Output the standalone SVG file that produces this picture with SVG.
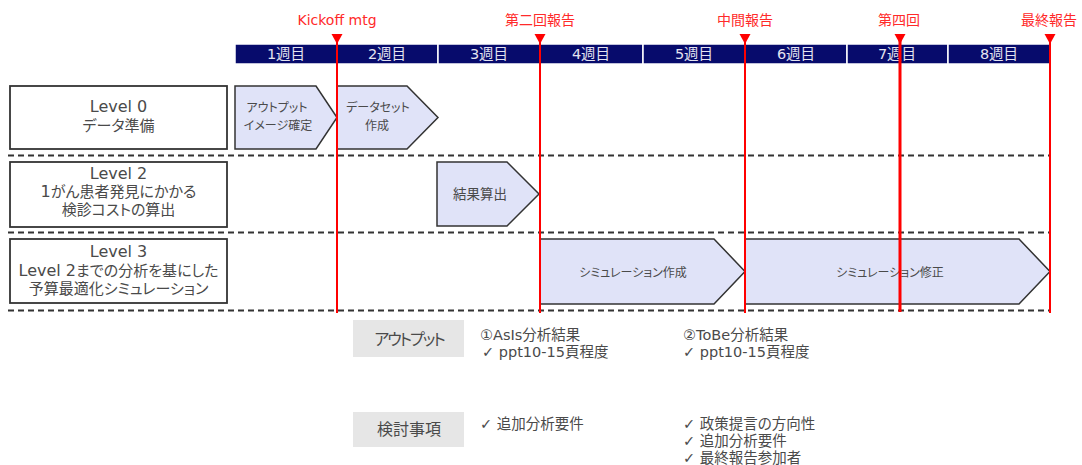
<svg xmlns="http://www.w3.org/2000/svg" width="1082" height="465" viewBox="0 0 1082 465">
<style>
text{font-family:"DejaVu Sans","Noto Sans CJK JP",sans-serif;font-feature-settings:"palt";fill:#4a4a4a}
.wk{fill:#070b6c;stroke:#ffffff;stroke-width:1.5}
.wkt{font-size:14.5px;fill:#e4e4f0;text-anchor:middle}
.ms{font-size:14px;fill:#ff2a2a;text-anchor:middle}
.msl{stroke:#ff0000;stroke-width:2;fill:none}
.tri{fill:#ff0000}
.lvl{fill:#ffffff;stroke:#333333;stroke-width:1.8}
.lt{font-size:15px;text-anchor:middle}
.lat{font-size:16px}
.chev{fill:#e0e3f8;stroke:#333333;stroke-width:1.5;stroke-linejoin:miter}
.ct{font-size:12px;text-anchor:middle}
.dash{stroke:#333333;stroke-width:1.8;stroke-dasharray:6 4;fill:none}
.gbox{fill:#e6e6e6}
.gt{font-size:16px;text-anchor:middle}
.li{font-size:14.5px}
</style>
<rect width="1082" height="465" fill="#ffffff"/>

<g id="weeks">
<rect class="wk" x="235" y="44" width="102" height="20"/>
<rect class="wk" x="337" y="44" width="101" height="20"/>
<rect class="wk" x="438" y="44" width="102" height="20"/>
<rect class="wk" x="540" y="44" width="103" height="20"/>
<rect class="wk" x="643" y="44" width="102" height="20"/>
<rect class="wk" x="745" y="44" width="102" height="20"/>
<rect class="wk" x="847" y="44" width="101" height="20"/>
<rect class="wk" x="948" y="44" width="102" height="20"/>
<text class="wkt" x="286" y="59">1週目</text>
<text class="wkt" x="387" y="59">2週目</text>
<text class="wkt" x="489" y="59">3週目</text>
<text class="wkt" x="591" y="59">4週目</text>
<text class="wkt" x="694" y="59">5週目</text>
<text class="wkt" x="796" y="59">6週目</text>
<text class="wkt" x="897" y="59">7週目</text>
<text class="wkt" x="999" y="59">8週目</text>
</g>

<g id="level0">
<rect class="lvl" x="10" y="86" width="217" height="63"/>
<text class="lt" x="118.5" y="112"><tspan class="lat">Level 0</tspan></text>
<text class="lt" x="118.5" y="131">データ準備</text>
</g>
<g id="level2">
<rect class="lvl" x="10" y="162" width="217" height="65"/>
<text class="lt" x="118.5" y="179"><tspan class="lat">Level 2</tspan></text>
<text class="lt" x="118.5" y="197"><tspan class="lat">1</tspan>がん患者発見にかかる</text>
<text class="lt" x="118.5" y="215">検診コストの算出</text>
</g>
<g id="level3">
<rect class="lvl" x="10" y="239" width="217" height="64"/>
<text class="lt" x="118.5" y="257"><tspan class="lat">Level 3</tspan></text>
<text class="lt" x="118.5" y="276"><tspan class="lat">Level 2</tspan>までの分析を基にした</text>
<text class="lt" x="118.5" y="294">予算最適化シミュレーション</text>
</g>

<g id="task-output-image">
<polygon class="chev" points="235,86 316,86 337,117.5 316,149 235,149"/>
<text class="ct" x="277" y="112">アウトプット</text>
<text class="ct" x="278" y="129.5">イメージ確定</text>
</g>
<g id="task-dataset">
<polygon class="chev" points="337,86 407,86 438,117.5 407,149 337,149"/>
<text class="ct" x="378" y="112">データセット</text>
<text class="ct" x="377" y="129.5">作成</text>
</g>
<g id="task-result">
<polygon class="chev" points="437,162 507,162 539,194 507,226 437,226"/>
<text class="ct" x="480" y="198.5" style="font-size:13.5px">結果算出</text>
</g>
<g id="task-sim-create">
<polygon class="chev" points="540,239 714,239 745,271.5 714,304 540,304"/>
<text class="ct" x="633" y="277">シミュレーション作成</text>
</g>
<g id="task-sim-revise">
<polygon class="chev" points="745,239 1019,239 1050,271.5 1019,304 745,304"/>
<text class="ct" x="890" y="277">シミュレーション修正</text>
</g>

<g id="connectors">
<line class="dash" x1="8" y1="155.5" x2="1050" y2="155.5"/>
<line class="dash" x1="8" y1="232.5" x2="1050" y2="232.5"/>
<line class="dash" x1="8" y1="310.5" x2="1050" y2="310.5"/>
<line class="msl" x1="337" y1="40" x2="337" y2="313"/>
<line class="msl" x1="540" y1="40" x2="540" y2="313"/>
<line class="msl" x1="745" y1="40" x2="745" y2="313"/>
<line class="msl" x1="900" y1="40" x2="900" y2="312" style="stroke-width:3"/>
<line class="msl" x1="1050" y1="40" x2="1050" y2="313"/>
</g>

<g id="milestones">
<polygon class="tri" points="331.5,34 342.5,34 337,44"/>
<polygon class="tri" points="534.5,34 545.5,34 540,44"/>
<polygon class="tri" points="739.5,34 750.5,34 745,44"/>
<polygon class="tri" points="894.5,34 905.5,34 900,44"/>
<polygon class="tri" points="1044.5,34 1055.5,34 1050,44"/>
<text class="ms" x="337" y="25">Kickoff mtg</text>
<text class="ms" x="540" y="25">第二回報告</text>
<text class="ms" x="745" y="25">中間報告</text>
<text class="ms" x="899" y="25">第四回</text>
<text class="ms" x="1049" y="25">最終報告</text>
</g>

<g id="output-row">
<rect class="gbox" x="353" y="320" width="111" height="37"/>
<text class="gt" x="409" y="345" style="letter-spacing:-2px">アウトプット</text>
<text class="li" x="480" y="340">①AsIs分析結果</text>
<text class="li" x="482" y="357">✓ ppt10-15頁程度</text>
<text class="li" x="683" y="340">②ToBe分析結果</text>
<text class="li" x="683" y="357">✓ ppt10-15頁程度</text>
</g>
<g id="review-row">
<rect class="gbox" x="353" y="412" width="111" height="35"/>
<text class="gt" x="409" y="435">検討事項</text>
<text class="li" x="480" y="429">✓ 追加分析要件</text>
<text class="li" x="683" y="429">✓ 政策提言の方向性</text>
<text class="li" x="683" y="446">✓ 追加分析要件</text>
<text class="li" x="683" y="463">✓ 最終報告参加者</text>
</g>
</svg>
